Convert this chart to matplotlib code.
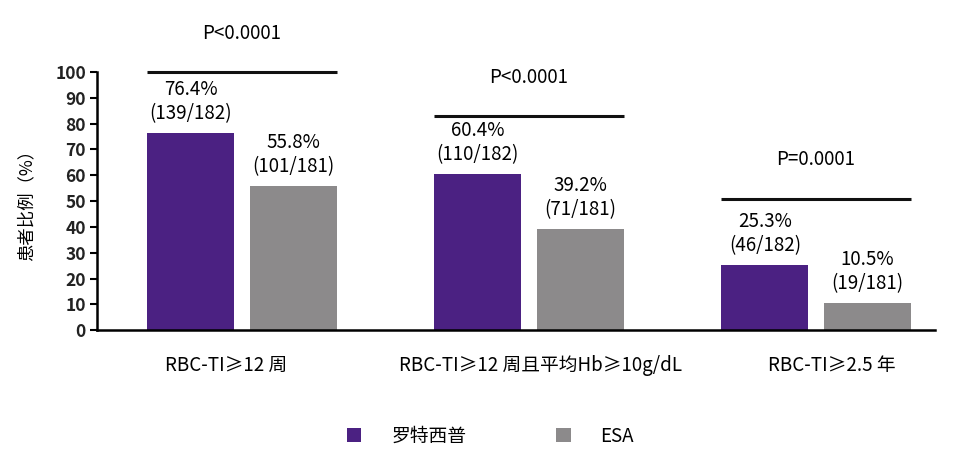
import matplotlib

matplotlib.use("Agg")
import matplotlib.pyplot as plt
import numpy as np

plt.rcParams["font.family"] = ["Noto Sans CJK SC", "DejaVu Sans"]

categories = ["RBC-TI≥12 周", "RBC-TI≥12 周且平均Hb≥10g/dL", "RBC-TI≥2.5 年"]
series_names = ["罗特西普", "ESA"]
luspatercept = [76.4, 60.4, 25.3]
esa = [55.8, 39.2, 10.5]
luspatercept_n = ["139/182", "110/182", "46/182"]
esa_n = ["101/181", "71/181", "19/181"]
p_values = ["P<0.0001", "P<0.0001", "P=0.0001"]
bracket_levels = [100, 83, 51]

PURPLE = "#4b2182"
GRAY = "#8c8a8b"

fig = plt.figure(figsize=(9.66, 4.65), dpi=100)
ax = fig.add_axes([0.1004, 0.290, 0.8676, 0.555])

x = np.arange(len(categories))
width = 0.303
offset = 0.178

ax.bar(x - offset, luspatercept, width, color=PURPLE, label=series_names[0])
ax.bar(x + offset, esa, width, color=GRAY, label=series_names[1])

fs = 13.5
for i in range(len(categories)):
    for val, n, dx in ((luspatercept[i], luspatercept_n[i], -offset), (esa[i], esa_n[i], offset)):
        ax.text(x[i] + dx, val + 3.5, f"{val}%\n({n})", ha="center", va="bottom",
                fontsize=fs, linespacing=1.2, clip_on=False)
    lvl = bracket_levels[i]
    ax.plot([x[i] - offset - width / 2, x[i] + offset + width / 2], [lvl, lvl],
            color="#111111", lw=2.2, clip_on=False, solid_capstyle="butt")
    ax.text(x[i], lvl + 15, p_values[i], ha="center", va="center", fontsize=fs, clip_on=False)

ax.set_xlim(-0.505, 2.415)
ax.set_ylim(0, 100)
ax.set_yticks(np.arange(0, 101, 10))
ax.set_xticks(x + np.array([-0.055, 0.04, 0.055]))
ax.set_xticklabels(categories, fontsize=fs)
ax.tick_params(axis="x", length=0, pad=18)
ax.tick_params(axis="y", length=5, width=1.5, direction="out", labelsize=12.5, pad=3)
for lbl in ax.get_yticklabels():
    lbl.set_fontweight("bold")
    lbl.set_color("#222222")

ax.spines["top"].set_visible(False)
ax.spines["right"].set_visible(False)
ax.spines["left"].set_linewidth(1.8)
ax.spines["bottom"].set_linewidth(1.8)

ax.set_ylabel("患者比例（%）", fontsize=12.5, labelpad=14)

fig.legend(loc="center", bbox_to_anchor=(0.508, 0.062), ncol=2, frameon=False,
           fontsize=fs, handlelength=0.75, handleheight=0.75, columnspacing=4.8,
           handletextpad=1.6)

fig.savefig("out.png", dpi=100)
